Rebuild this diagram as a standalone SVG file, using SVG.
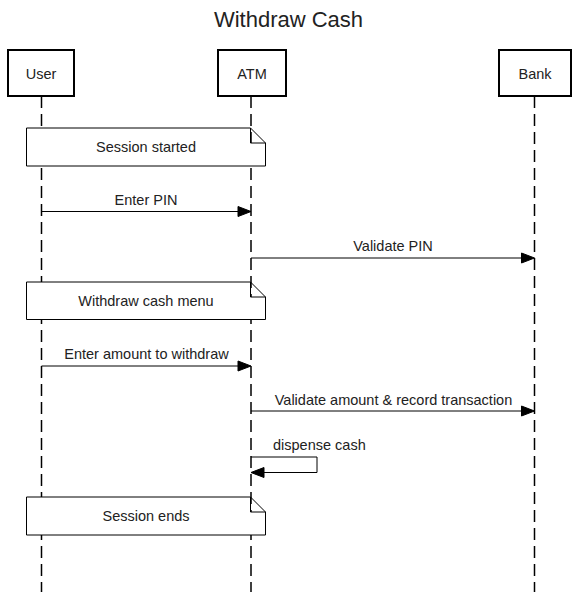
<svg xmlns="http://www.w3.org/2000/svg" width="577" height="592" viewBox="0 0 577 592">
<style>
text{font-family:"Liberation Sans",Arial,sans-serif;font-size:14.5px;fill:#222}
.title{font-size:22px;text-anchor:middle}
.c{text-anchor:middle}
.box{fill:#fff;stroke:#000;stroke-width:2}
.life{stroke:#000;stroke-width:1.5;stroke-dasharray:12 6;fill:none}
.note{fill:#fff;stroke:#000;stroke-width:1}
.msg{stroke:#000;stroke-width:1;fill:none}
.head{fill:#000;stroke:#000;stroke-width:1}
</style>
<rect width="577" height="592" fill="#fff"/>
<text class="title" x="288.5" y="26.5">Withdraw Cash</text>
<g id="lifelines">
<line class="life" x1="41.5" y1="96" x2="41.5" y2="592"/>
<line class="life" x1="251" y1="96" x2="251" y2="592"/>
<line class="life" x1="534.5" y1="96" x2="534.5" y2="592"/>
</g>
<g id="user"><rect class="box" x="8" y="50" width="66" height="46"/><text class="c" x="41" y="79">User</text></g>
<g id="atm"><rect class="box" x="218" y="50" width="68" height="46"/><text class="c" x="252" y="79">ATM</text></g>
<g id="bank"><rect class="box" x="499" y="50" width="72" height="46"/><text class="c" x="535" y="79">Bank</text></g>
<g id="note1"><path class="note" d="M26.5,128 H250.5 L265.5,143 V166 H26.5 Z M250.5,128 V143 H265.5"/><text class="c" x="146" y="152">Session started</text></g>
<g id="note2"><path class="note" d="M26.5,282 H250.5 L265.5,297 V319.5 H26.5 Z M250.5,282 V297 H265.5"/><text class="c" x="146" y="305.5">Withdraw cash menu</text></g>
<g id="note3"><path class="note" d="M26.5,497 H250.5 L265.5,512 V535 H26.5 Z M250.5,497 V512 H265.5"/><text class="c" x="146" y="521">Session ends</text></g>
<g id="connectors">
<line class="msg" x1="41.5" y1="211.5" x2="240" y2="211.5"/>
<polygon class="head" points="251,211.5 238,206.5 238,216.5"/>
<text class="c" x="146" y="205">Enter PIN</text>
<line class="msg" x1="251" y1="258" x2="523" y2="258"/>
<polygon class="head" points="534.5,258 521.5,253 521.5,263"/>
<text class="c" x="393" y="251">Validate PIN</text>
<line class="msg" x1="41.5" y1="366" x2="240" y2="366"/>
<polygon class="head" points="251,366 238,361 238,371"/>
<text class="c" x="146.5" y="358.5">Enter amount to withdraw</text>
<line class="msg" x1="251" y1="411" x2="523" y2="411"/>
<polygon class="head" points="534.5,411 521.5,406 521.5,416"/>
<text class="c" x="393.5" y="404.5">Validate amount &amp; record transaction</text>
<path class="msg" d="M251,457 H317 V472.5 H262"/>
<polygon class="head" points="251,472.5 264,467.5 264,477.5"/>
<text x="273" y="449.5">dispense cash</text>
</g>
</svg>
